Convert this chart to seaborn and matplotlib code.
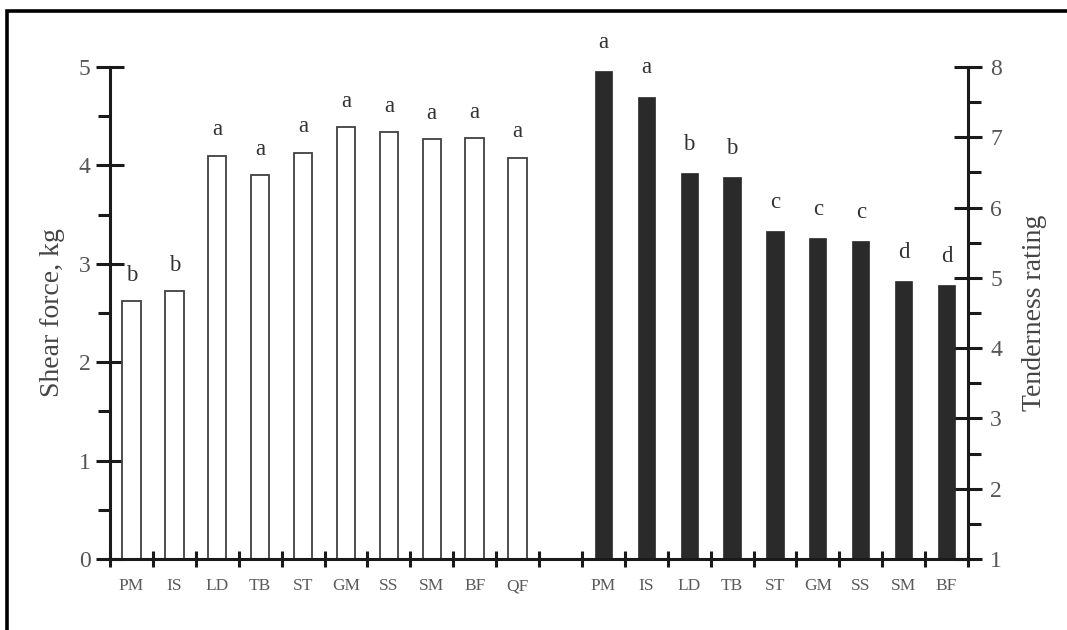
import matplotlib
matplotlib.use("Agg")
import matplotlib.pyplot as plt
from matplotlib.patches import Rectangle
from matplotlib.ticker import MultipleLocator, FixedLocator
import seaborn as sns
import pandas as pd

# ---- data ----
shear_cats = ["PM", "IS", "LD", "TB", "ST", "GM", "SS", "SM", "BF", "QF"]
shear_force = [2.62, 2.72, 4.10, 3.90, 4.13, 4.39, 4.34, 4.27, 4.28, 4.08]
shear_letters = ["b", "b", "a", "a", "a", "a", "a", "a", "a", "a"]

tender_cats = ["PM", "IS", "LD", "TB", "ST", "GM", "SS", "SM", "BF"]
tenderness = [7.94, 7.58, 6.49, 6.44, 5.66, 5.57, 5.53, 4.96, 4.90]
tender_letters = ["a", "a", "b", "b", "c", "c", "c", "d", "d"]

n_gap = 1

sns.set_style("ticks")
plt.rcParams["font.family"] = ["Liberation Serif", "DejaVu Serif"]

left_keys = [f"L{i}" for i in range(len(shear_cats))]
gap_keys = [f"G{i}" for i in range(n_gap)]
right_keys = [f"R{i}" for i in range(len(tender_cats))]
order = left_keys + gap_keys + right_keys
tick_labels = shear_cats + [""] * n_gap + tender_cats

df_left = pd.DataFrame({"key": left_keys, "value": shear_force})
df_right = pd.DataFrame({"key": right_keys, "value": tenderness})

W, H = 1067, 630
fig = plt.figure(figsize=(W / 100, H / 100), dpi=100)
ax = fig.add_axes([110 / W, 1 - 559 / H, (968 - 110) / W, (559 - 67) / H])
ax2 = ax.twinx()

sns.barplot(data=df_left, x="key", y="value", order=order, ax=ax,
            color="white", edgecolor="#404040", linewidth=1.3, width=0.43,
            saturation=1)
sns.barplot(data=df_right, x="key", y="value", order=order, ax=ax2,
            color="#2a2a2a", edgecolor="#2a2a2a", linewidth=0.5, width=0.40,
            saturation=1)

ax.set_xlim(-0.5, len(order) - 0.5)
ax.set_ylim(0, 5)
ax2.set_ylim(1, 8)

# letters
txt_col = "#333333"
for i, (v, l) in enumerate(zip(shear_force, shear_letters)):
    ax.annotate(l, (i, v), xytext=(0, 11), textcoords="offset points",
                ha="center", va="bottom", fontsize=16.5, color=txt_col)
off = len(shear_cats) + n_gap
for j, (v, l) in enumerate(zip(tenderness, tender_letters)):
    ax2.annotate(l, (off + j, v), xytext=(0, 13), textcoords="offset points",
                 ha="center", va="bottom", fontsize=16.5, color=txt_col,
                 annotation_clip=False)

# spines
for s in ["top", "right", "bottom"]:
    ax.spines[s].set_visible(False)
ax.spines["left"].set_linewidth(2.2)
ax.spines["left"].set_color("#1a1a1a")
for s in ["top", "left"]:
    ax2.spines[s].set_visible(False)
for s in ["right", "bottom"]:
    ax2.spines[s].set_linewidth(2.2)
    ax2.spines[s].set_color("#1a1a1a")

# x ticks
ax.set_xticks(range(len(order)))
ax.set_xticklabels(tick_labels, fontsize=12.5, color="#5a5a5a")
ax.tick_params(axis="x", which="major", length=0, pad=14)
ax.xaxis.set_minor_locator(FixedLocator([k - 0.5 for k in range(len(order) + 1)]))
ax.tick_params(axis="x", which="minor", direction="inout", length=12, width=2.2,
               color="#1a1a1a")
ax.set_xlabel("")
ax2.set_xlabel("")

# y ticks left
ax.yaxis.set_major_locator(MultipleLocator(1))
ax.yaxis.set_minor_locator(MultipleLocator(0.5))
ax.tick_params(axis="y", which="major", direction="inout", length=20, width=2.2,
               color="#1a1a1a", labelsize=17, labelcolor="#555555", pad=4)
ax.tick_params(axis="y", which="minor", direction="out", length=9, width=2.2,
               color="#1a1a1a")
ax.set_ylabel("Shear force, kg", fontsize=20, color="#444444", labelpad=10)

# y ticks right
ax2.yaxis.set_major_locator(MultipleLocator(1))
ax2.yaxis.set_minor_locator(MultipleLocator(0.5))
ax2.tick_params(axis="y", which="major", direction="inout", length=20, width=2.2,
                color="#1a1a1a", labelsize=17, labelcolor="#555555", pad=6)
ax2.tick_params(axis="y", which="minor", direction="out", length=9, width=2.2,
                color="#1a1a1a")
ax2.set_ylabel("Tenderness rating", fontsize=20, color="#444444", labelpad=14)

# outer frame
fig.add_artist(Rectangle((7 / W, -0.2), 1.5, 1 - 11 / H + 0.2,
                         transform=fig.transFigure, fill=False, lw=2.6,
                         ec="black"))

fig.savefig("out.png", dpi=100)
